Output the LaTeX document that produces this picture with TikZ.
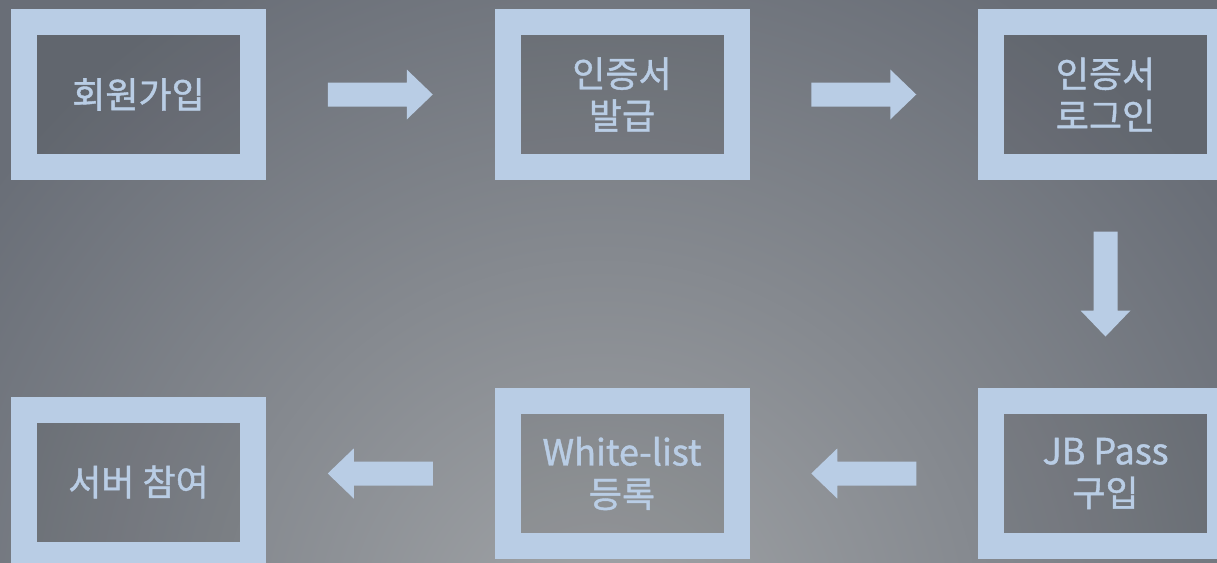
\documentclass[tikz,border=0pt]{standalone}
\usepackage{fontspec}
\newfontfamily\kr[FakeBold=1.1]{Noto Sans CJK KR}
\usetikzlibrary{calc}
\definecolor{bordercol}{HTML}{B9CDE5}
\definecolor{bgdark}{HTML}{696E77}
\definecolor{bglight}{HTML}{A2A5A8}
\tikzset{
  stepbox/.style={draw=bordercol, line width=26pt, line join=miter,
    fill=black, fill opacity=0.07, text opacity=1, text=bordercol,
    minimum width=229pt, minimum height=145pt, inner sep=0pt,
    align=center, font=\kr\fontsize{36}{42}\selectfont},
  barrow/.pic={\fill[bordercol] (-52.5,-12) -- (26.5,-12) -- (26.5,-25) -- (52.5,0)
     -- (26.5,25) -- (26.5,12) -- (-52.5,12) -- cycle;}
}
\begin{document}
\begin{tikzpicture}[x=1pt,y=-1pt]
\useasboundingbox (0,0) rectangle (1217,562);
\clip (0,0) rectangle (1217,562);
\fill[bgdark] (0,0) rectangle (1217,562);
\shade[inner color=bglight, outer color=bgdark] (600,640) circle (760);
\node[stepbox] (n1) at (138.5,94.5) {회원가입};
\node[stepbox] (n2) at (622,94.5) {인증서\\발급};
\node[stepbox] (n3) at (1105.5,94.5) {인증서\\로그인};
\node[stepbox] (n6) at (1105.5,473.5) {JB Pass\\구입};
\node[stepbox] (n5) at (622,473.5) {White-list\\등록};
\node[stepbox] (n4) at (138.5,482) {서버 참여};
\pic at ($(n1.east)!0.5!(n2.west)$) {barrow};
\pic at ($(n2.east)!0.5!(n3.west)$) {barrow};
\pic[rotate=-90] at ($(n3.south)!0.5!(n6.north)$) {barrow};
\pic[rotate=180] at ($(n6.west)!0.5!(n5.east)$) {barrow};
\pic[rotate=180] at ($(n5.west)!0.5!(n5.west-|n4.east)$) {barrow};
\end{tikzpicture}
\end{document}
